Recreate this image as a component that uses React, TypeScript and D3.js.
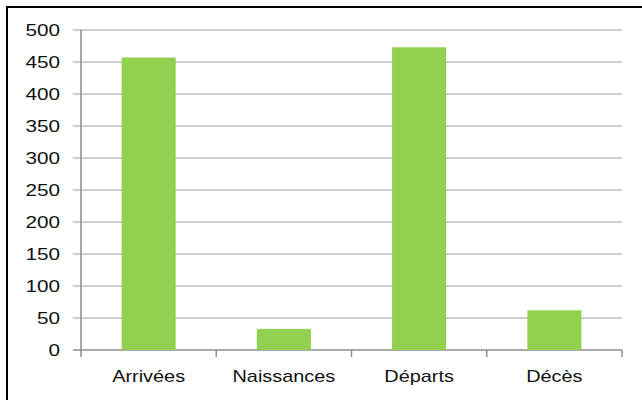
import React from "react";
import * as d3 from "d3";

const categories = ["Arrivées", "Naissances", "Départs", "Décès"];
const values = [457, 33, 473, 62];
const yTicks = [0, 50, 100, 150, 200, 250, 300, 350, 400, 450, 500];

const W = 642;
const H = 400;
const plot = { left: 81, right: 622, top: 30, bottom: 350 };

export default function App() {
  const x = d3
    .scaleBand<string>()
    .domain(categories)
    .range([plot.left, plot.right])
    .paddingInner(0.6)
    .paddingOuter(0.3);
  const xb = d3.scaleBand<string>().domain(categories).range([plot.left, plot.right]);
  const y = d3.scaleLinear().domain([0, 500]).range([plot.bottom, plot.top]);
  const font = "'Liberation Sans', Arial, sans-serif";
  return (
    <svg
      width={W}
      height={H}
      style={{ position: "absolute", left: 0, top: 0, background: "#fff" }}
    >
      <rect x={7} y={7} width={W} height={H} fill="#fff" stroke="#000" strokeWidth={2} />
      {yTicks.map((t) => (
        <g key={t}>
          <line
            x1={plot.left - 8}
            x2={plot.right}
            y1={y(t)}
            y2={y(t)}
            stroke={t === 0 ? "#8c8c8c" : "#bdbdbd"}
            strokeWidth={1.5}
          />
          <text
            x={0}
            y={0}
            transform={`translate(60,${y(t)}) scale(1.22,1)`}
            textAnchor="end"
            dominantBaseline="central"
            fontFamily={font}
            fontSize={17}
            fill="#111"
          >
            {t}
          </text>
        </g>
      ))}
      <line x1={plot.left} x2={plot.left} y1={plot.top} y2={plot.bottom} stroke="#8c8c8c" strokeWidth={1.5} />
      {categories.map((c) => (
        <line
          key={"t" + c}
          x1={xb(c)! + xb.bandwidth()}
          x2={xb(c)! + xb.bandwidth()}
          y1={plot.bottom}
          y2={plot.bottom + 7}
          stroke="#8c8c8c"
          strokeWidth={1.5}
        />
      ))}
      <line x1={plot.left} x2={plot.left} y1={plot.bottom} y2={plot.bottom + 7} stroke="#8c8c8c" strokeWidth={1.5} />
      {categories.map((c, i) => (
        <rect
          key={c}
          x={x(c)}
          y={y(values[i])}
          width={x.bandwidth()}
          height={y(0) - y(values[i])}
          fill="#92d050"
        />
      ))}
      {categories.map((c) => (
        <text
          key={"l" + c}
          x={0}
          y={0}
          transform={`translate(${xb(c)! + xb.bandwidth() / 2},376.5) scale(1.17,1)`}
          textAnchor="middle"
          dominantBaseline="central"
          fontFamily={font}
          fontSize={17}
          fill="#111"
        >
          {c}
        </text>
      ))}
    </svg>
  );
}
